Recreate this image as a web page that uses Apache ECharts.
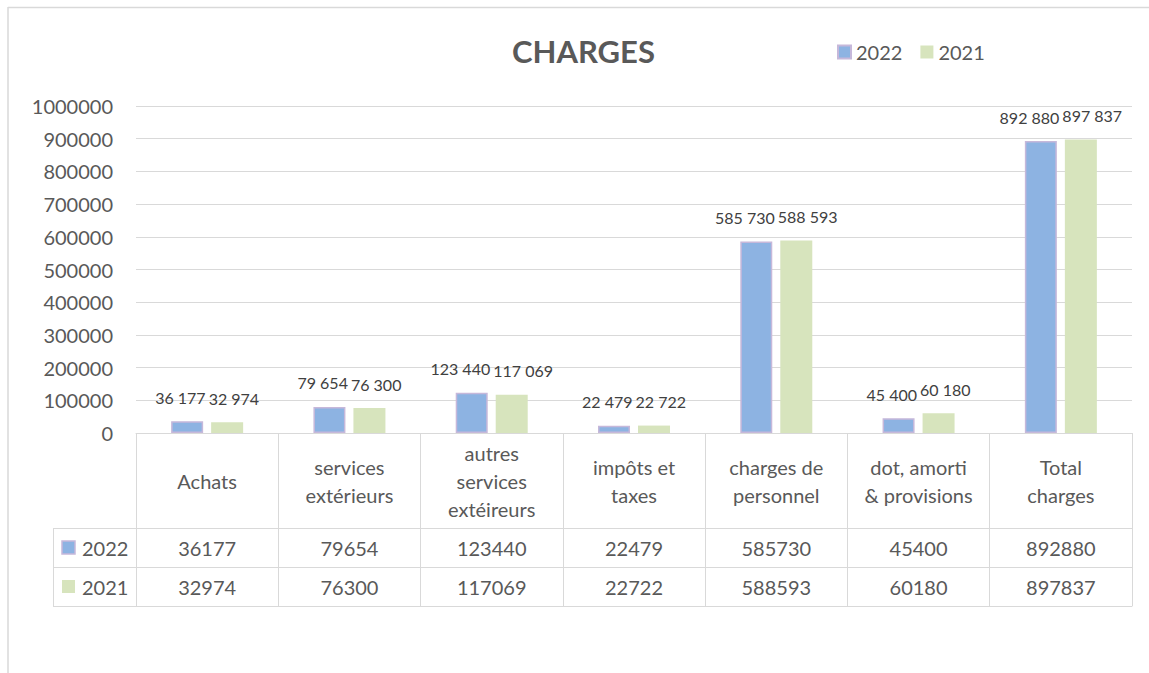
<!DOCTYPE html>
<html><head><meta charset="utf-8">
<script src="https://cdn.jsdelivr.net/npm/echarts@6/dist/echarts.min.js"></script>
<style>html,body{margin:0;padding:0;background:#fff}#c{width:1149px;height:673px}</style>
</head><body><div id="c"></div>
<script>
// ---- data ----
const categories = ['Achats', 'services\nextérieurs', 'autres\nservices\nextéireurs', 'impôts et\ntaxes', 'charges de\npersonnel', 'dot, amorti\n& provisions', 'Total\ncharges'];
const seriesNames = ['2022', '2021'];
const values2022 = [36177, 79654, 123440, 22479, 585730, 45400, 892880];
const values2021 = [32974, 76300, 117069, 22722, 588593, 60180, 897837];
const yMin = 0, yMax = 1000000, yStep = 100000;
const titleText = 'CHARGES';

// ---- styles ----
const FONT = 'Lato';
const TXT = '#595959';
const GRID = '#d9d9d9';
const C2022 = '#8db3e2', B2022 = '#c6b8da';
const C2021 = '#d7e4bd';

const fmtSpace = v => String(v).replace(/\B(?=(\d{3})+(?!\d))/g, ' ');

const chart = echarts.init(document.getElementById('c'), null, { renderer: 'svg' });

const G = { left: 136, right: 17, top: 106, bottom: 240 };
const headerH = 95, rowH = 39;
const BAR_GAP_PX = 8, LABEL_GAP = 3;

function tableAxis(data, offset, showLabel) {
  return {
    type: 'category', data: data, position: 'bottom', offset: offset,
    axisLine: { show: true, onZero: false, lineStyle: { color: GRID, width: 1 } },
    axisTick: { show: false },
    axisLabel: { show: showLabel, interval: 0, fontFamily: FONT, fontSize: 20, color: TXT,
      verticalAlign: 'middle', margin: rowH / 2 }
  };
}

const gfx = [];
const colLeft = 53, colRight = G.left;
const rowTop1 = 673 - G.bottom + headerH;
[0, 1, 2].forEach(i => {
  const y = rowTop1 + i * rowH + 0.5;
  gfx.push({ type: 'line', shape: { x1: colLeft, y1: y, x2: colRight, y2: y }, style: { stroke: GRID, lineWidth: 1 } });
});
gfx.push({ type: 'line', shape: { x1: colLeft + 0.5, y1: rowTop1, x2: colLeft + 0.5, y2: rowTop1 + 2 * rowH }, style: { stroke: GRID, lineWidth: 1 } });
seriesNames.forEach((n, i) => {
  const cy = rowTop1 + i * rowH + rowH / 2;
  gfx.push({ type: 'rect', shape: { x: 62, y: cy - 6.5, width: 13, height: 13 },
    style: { fill: i === 0 ? C2022 : C2021, stroke: i === 0 ? B2022 : null, lineWidth: i === 0 ? 1.5 : 0 } });
  gfx.push({ type: 'text', x: 82, y: cy, style: { text: n, fontFamily: FONT, fontSize: 20, fill: TXT, verticalAlign: 'middle', align: 'left' } });
});
// chart area border (top & left)
gfx.push({ type: 'line', shape: { x1: 8, y1: 7.5, x2: 1149, y2: 7.5 }, style: { stroke: GRID, lineWidth: 1.5 } });
gfx.push({ type: 'line', shape: { x1: 8, y1: 7, x2: 8, y2: 673 }, style: { stroke: GRID, lineWidth: 1.5 } });

const barLabel = { show: true, position: 'top', distance: 16, fontFamily: FONT, fontSize: 16, color: '#404040',
  formatter: p => fmtSpace(p.value) };

// push the two labels of a pair apart so they sit side by side, as in the reference
function pairLayout(side) {
  return function (params) {
    const bw = params.rect.width, lw = params.labelRect.width;
    const pushed = bw / 2 + BAR_GAP_PX / 2 - LABEL_GAP / 2 - lw / 2;
    return { dx: side < 0 ? Math.min(0, pushed) : -Math.min(0, pushed) };
  };
}

const option = {
  animation: false,
  backgroundColor: '#fff',
  textStyle: { fontFamily: FONT },
  title: { text: titleText, left: 507, top: 30,
    textStyle: { fontFamily: FONT, fontSize: 31, fontWeight: 'bold', color: TXT } },
  legend: { left: 832, top: 37, itemWidth: 13, itemHeight: 13, itemGap: 18, icon: 'rect',
    textStyle: { fontFamily: FONT, fontSize: 20, color: TXT }, data: seriesNames },
  grid: G,
  xAxis: [
    { type: 'category', data: categories, position: 'bottom',
      axisLine: { show: true, onZero: false, lineStyle: { color: GRID, width: 1 } },
      axisTick: { show: true, length: headerH + 2 * rowH, lineStyle: { color: GRID, width: 1 } },
      axisLabel: { interval: 0, fontFamily: FONT, fontSize: 20, lineHeight: 28, color: TXT,
        verticalAlign: 'middle', margin: headerH / 2 } },
    tableAxis(values2022.map(String), headerH, true),
    tableAxis(values2021.map(String), headerH + rowH, true),
    tableAxis(categories, headerH + 2 * rowH, false)
  ],
  yAxis: { type: 'value', min: yMin, max: yMax, interval: yStep,
    axisLine: { show: false }, axisTick: { show: false },
    splitLine: { lineStyle: { color: GRID, width: 1 } },
    axisLabel: { fontFamily: FONT, fontSize: 20, color: TXT, margin: 23, formatter: v => String(v) } },
  series: [
    { name: seriesNames[0], type: 'bar', data: values2022, barWidth: 32, barGap: '25%',
      itemStyle: { color: C2022, borderColor: B2022, borderWidth: 1.5 },
      label: barLabel, labelLayout: pairLayout(-1) },
    { name: seriesNames[1], type: 'bar', data: values2021, barWidth: 32, barGap: '25%',
      itemStyle: { color: C2021 },
      label: barLabel, labelLayout: pairLayout(1) }
  ],
  graphic: gfx
};
chart.setOption(option);
</script>
</body></html>
